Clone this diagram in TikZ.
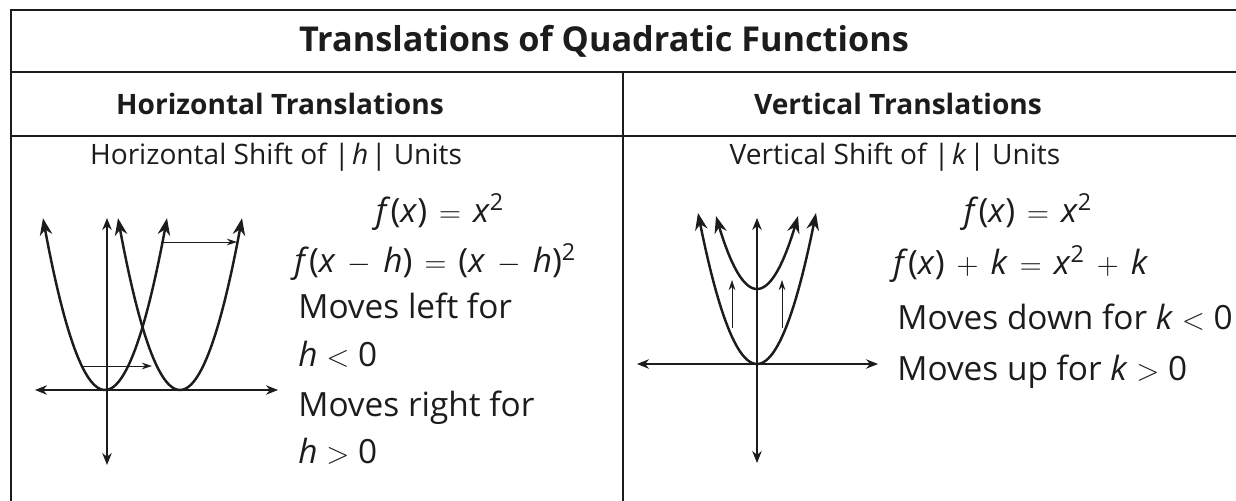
\documentclass[tikz,border=0pt]{standalone}
\usepackage{fontspec}
\setmainfont{Open Sans}
\usetikzlibrary{arrows.meta,positioning}
\definecolor{ink}{HTML}{1C1C1C}
\tikzset{
  rule/.style={draw=ink,line width=1.2pt},
  axis/.style={{Stealth[length=2.4mm,width=1.9mm]}-{Stealth[length=2.4mm,width=1.9mm]},draw=ink,line width=.7pt},
  curve/.style={{Stealth[length=3.4mm,width=2.5mm]}-{Stealth[length=3.4mm,width=2.5mm]},draw=ink,line width=1.4pt},
  shiftarrow/.style={-{Stealth[length=2mm,width=1.3mm]},draw=ink,line width=.45pt},
  headtxt/.style={font=\bfseries\fontsize{16}{19}\selectfont,text=ink,inner sep=0pt,anchor=base},
  subtxt/.style={font=\fontsize{16}{19}\selectfont,text=ink,inner sep=0pt,anchor=base},
  bodytxt/.style={font=\fontsize{19}{22}\selectfont,text=ink,inner sep=0pt,anchor=base west}
}
\newcommand{\vr}[1]{\textit{#1}}
\newcommand{\sop}[1]{\hspace{.36em}$#1$\hspace{.36em}}

\begin{document}
\begin{tikzpicture}[x=.02cm,y=-.02cm]
  \useasboundingbox (0,0) rectangle (1236,500);
  \clip (0,0) rectangle (1236,500);

  % Table rules.
  \draw[rule] (11,520) -- (11,10) -- (1250,10);
  \draw[rule] (11,72) -- (1250,72);
  \draw[rule] (11,136) -- (1250,136);
  \draw[rule] (623,72) -- (623,520);

  % Title and column heads.
  \node[headtxt,font=\bfseries\fontsize{19.5}{22}\selectfont] (title) at (604,52)
    {Translations of Quadratic Functions};
  \node[headtxt] (hhead) at (280,114) {Horizontal Translations};
  \node[headtxt] (vhead) at (898,114) {Vertical Translations};
  \node[subtxt] (hsub) at (276,164)
    {Horizontal Shift of |\kern1.5pt\vr{h}\kern1.5pt| Units};
  \node[subtxt] (vsub) at (895,164)
    {Vertical Shift of |\kern1.5pt\vr{k}\kern1.5pt| Units};

  % Horizontal shift graph.
  \draw[axis] (35,390) -- (278,390);
  \draw[axis] (107,218) -- (107,465);
  \draw[curve] plot[domain=-62:62,samples=60] ({105+\x},{390-.0447*\x*\x});
  \draw[curve] plot[domain=-62:62,samples=60] ({180+\x},{390-.0447*\x*\x});
  \draw[shiftarrow] (163,242) -- (237,242);
  \draw[shiftarrow] (83,366) -- (152,366);

  % Horizontal shift rules.
  \node[bodytxt] (heqb) at (294,272)
    {\vr{f}(\vr{x}\sop{-}\vr{h})\sop{=}(\vr{x}\sop{-}\vr{h})\textsuperscript{2}};
  \node[bodytxt,anchor=base] (heqa) at (440,222)
    {\vr{f}(\vr{x})\sop{=}\vr{x}\textsuperscript{2}};
  \node[bodytxt] (hleft) at (298,318) {Moves left for};
  \node[bodytxt] (hneg) at (298,366) {\vr{h} $<$ 0};
  \node[bodytxt] (hright) at (298,416) {Moves right for};
  \node[bodytxt] (hpos) at (298,463) {\vr{h} $>$ 0};

  % Vertical shift graph.
  \draw[axis] (637,364) -- (878,364);
  \draw[axis] (757,218) -- (757,463);
  \draw[curve] plot[domain=-59:59,samples=60] ({757+\x},{364-.0434*\x*\x});
  \draw[curve] plot[domain=-41:41,samples=60] ({757+\x},{289-.0434*\x*\x});
  \draw[shiftarrow] (732,328) -- (732,280);
  \draw[shiftarrow] (782,328) -- (782,280);

  % Vertical shift rules.
  \node[bodytxt] (veqb) at (893,274)
    {\vr{f}(\vr{x})\sop{+}\vr{k}\sop{=}\vr{x}\textsuperscript{2}\sop{+}\vr{k}};
  \node[bodytxt,anchor=base] (veqa) at (1028,222)
    {\vr{f}(\vr{x})\sop{=}\vr{x}\textsuperscript{2}};
  \node[bodytxt] (vdown) at (897,329) {Moves down for \vr{k} $<$ 0};
  \node[bodytxt] (vup) at (897,380) {Moves up for \vr{k} $>$ 0};
\end{tikzpicture}
\end{document}
